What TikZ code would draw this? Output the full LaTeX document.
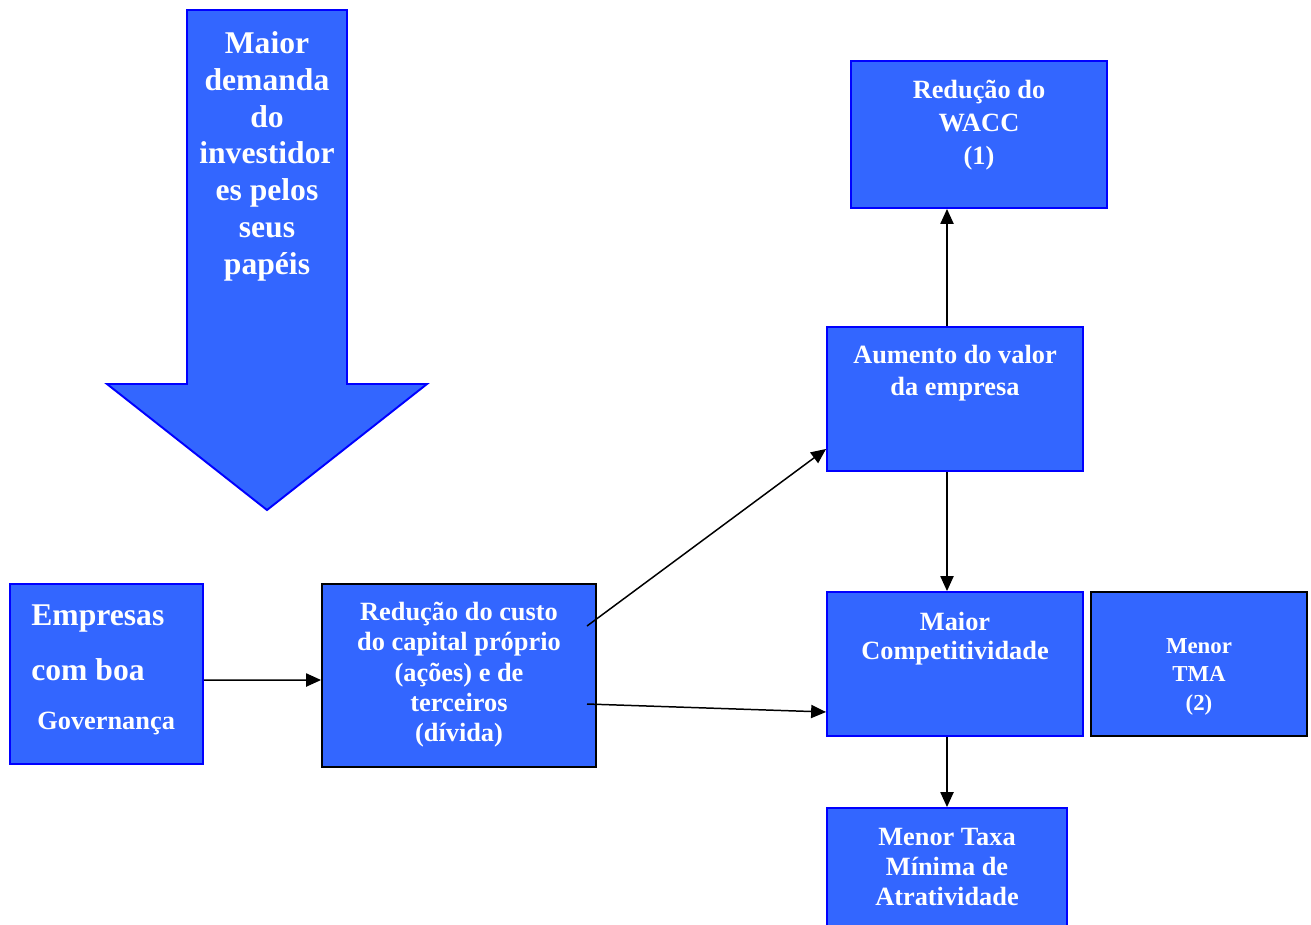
\documentclass[tikz,border=0pt]{standalone}
\usepackage{fontspec}
\setmainfont{Liberation Serif}
\usetikzlibrary{arrows.meta}
\definecolor{boxblue}{HTML}{3366FF}
\definecolor{edgeblue}{HTML}{0000FF}

\begin{document}
\begin{tikzpicture}[
            x=0.02cm, y=-0.02cm,
            box/.style={rectangle, draw=edgeblue, fill=boxblue, line width=1.1pt,
                        inner sep=0pt, minimum width=5.12cm, minimum height=2.88cm},
            darkbox/.style={box, draw=black},
            txt/.style={text=white, inner sep=0pt, align=center, anchor=north,
                        font=\bfseries\fontsize{15}{17.5}\selectfont},
            arrow/.style={-{Triangle[length=8.5pt, width=7.5pt]}, line width=0.85pt, color=black}
        ]
            \useasboundingbox (0,0) rectangle (1311,924);
            \clip (0,0) rectangle (1311,924);

            % Big arrow pointing down
            \draw[draw=edgeblue, fill=boxblue, line width=1.1pt, line join=miter]
                (187,10) -- (347,10) -- (347,384) -- (427,384) -- (267,510)
                -- (107,384) -- (187,384) -- cycle;
            \node[txt, font=\bfseries\fontsize{18}{21}\selectfont] (demanda) at (267,31)
                {Maior\\demanda\\do\\investidor\\es pelos\\seus\\papéis};

            % Boxes
            \node[box, minimum width=3.86cm, minimum height=3.6cm] (empresas) at (106.5,674) {};
            \node[darkbox, minimum width=5.48cm, minimum height=3.66cm] (custo) at (459,675.5) {};
            \node[box] (aumento) at (955,399) {};
            \node[box, minimum height=2.94cm] (wacc) at (979,134.5) {};
            \node[box] (compet) at (955,664) {};
            \node[darkbox, minimum width=4.32cm] (tma) at (1199,664) {};
            \node[box, minimum width=4.8cm] (taxa) at (947,880) {};

            % Texts
            \node[txt, anchor=north west, align=left, font=\bfseries\fontsize{18}{31.7}\selectfont]
                (empresastxt) at (31,604)
                {Empresas\\com boa\\[-4pt]{\fontsize{15}{18}\selectfont\hspace*{3.4pt}Governança}};
            \node[txt, font=\bfseries\fontsize{15}{17.2}\selectfont] (custotxt) at (459,602)
                {Redução do custo\\do capital próprio\\(ações) e de\\terceiros\\(dívida)};
            \node[txt, font=\bfseries\fontsize{15}{18.1}\selectfont] (aumentotxt) at (955,345)
                {Aumento do valor\\da empresa};
            \node[txt, font=\bfseries\fontsize{15}{18.7}\selectfont] (wacctxt) at (979,80)
                {Redução do\\WACC\\(1)};
            \node[txt, font=\bfseries\fontsize{15}{16.4}\selectfont] (compettxt) at (955,612)
                {Maior\\Competitividade};
            \node[txt, font=\bfseries\fontsize{13}{16.2}\selectfont] (tmatxt) at (1199,638)
                {Menor\\TMA\\(2)};
            \node[txt, font=\bfseries\fontsize{15}{17}\selectfont] (taxatxt) at (947,828)
                {Menor Taxa\\Mínima de\\Atratividade};

            % Connectors
            \coordinate (axis) at (947,0);
            \coordinate (custoup) at (587,626);
            \coordinate (custodown) at (587,704);

            \draw[arrow] ([yshift=-0.12cm]empresas.east) -- ([yshift=-0.09cm]custo.west);
            \draw[arrow] (custoup) -- ([yshift=0.46cm]aumento.south west);
            \draw[arrow] (custodown) -- ([yshift=-0.96cm]compet.west);
            \draw[arrow] (aumento.north -| axis) -- (wacc.south -| axis);
            \draw[arrow] (aumento.south -| axis) -- (compet.north -| axis);
            \draw[arrow] (compet.south -| axis) -- (taxa.north -| axis);
        \end{tikzpicture}
\end{document}
